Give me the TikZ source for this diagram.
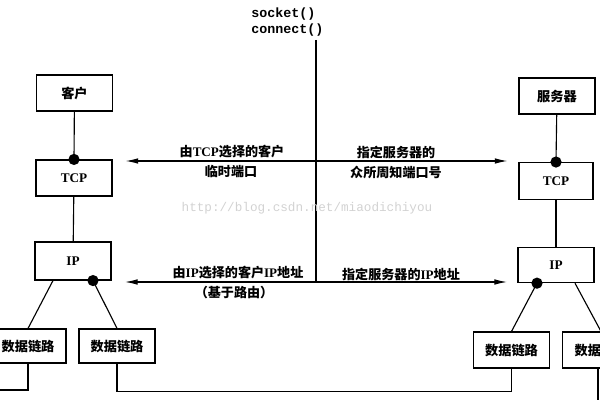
\documentclass[tikz,border=0pt]{standalone}
\usepackage{fontspec}
\setmainfont{Liberation Serif}
\setmonofont{Liberation Mono}
\newfontfamily\cjk{Noto Sans CJK SC}
\usetikzlibrary{arrows.meta,calc}
\definecolor{mark}{HTML}{D2D2D2}
\newcommand{\lat}[1]{{\rmfamily\bfseries #1}}

\begin{document}
\begin{tikzpicture}[x=0.025cm,y=-0.025cm,
  box/.style={draw,line width=0.8pt,minimum width=1.9cm,minimum height=0.9cm,inner sep=0pt,font=\fontsize{9.4}{11}\selectfont\cjk\bfseries},
  lbl/.style={inner sep=0pt,font=\fontsize{9.3}{11}\selectfont\cjk\bfseries},
  code/.style={inner sep=0pt,anchor=west,font=\fontsize{9.5}{11}\selectfont\ttfamily\bfseries},
  wire/.style={line width=0.8pt},
  dir/.style={line width=0.8pt,{Latex[length=9pt,width=4pt]}-{Latex[length=9pt,width=4pt]}},
  dot/.style={circle,fill,inner sep=0pt,minimum size=8pt},
]
  \useasboundingbox (0,0) rectangle (600,400);

  % client side
  \node[box] (cli) at (74.5,93) {客户};
  \node[box] (ctcp) at (74,178) {\lat{TCP}};
  \node[box,minimum height=0.95cm] (cip) at (73,261) {\lat{IP}};
  \node[box,minimum height=0.85cm] (cdl1) at (28,346) {数据链路};
  \node[box,minimum height=0.85cm] (cdl2) at (117,346) {数据链路};
  \node[dot] (cdot1) at (ctcp.north) {};
  \node[dot] (cdot2) at ($(cip.south)+(20,0)$) {};
  \coordinate (cfoot) at ($(cip.south)+(-20,0)$);

  \draw[wire] (cli) -- (cdot1.center);
  \draw[wire] (ctcp) -- (cip);
  \draw[wire] (cfoot) -- (cdl1.north);
  \draw[wire] (cdot2.center) -- (cdl2.north);

  % server side
  \node[box] (srv) at (557,96) {服务器};
  \node[box,minimum width=1.85cm,minimum height=0.92cm] (stcp) at (556,181) {\lat{TCP}};
  \node[box,minimum height=0.88cm] (sip) at (556,265) {\lat{IP}};
  \node[box,minimum width=1.92cm] (sdl1) at (511.5,350) {数据链路};
  \node[box,minimum width=1.92cm] (sdl2) at (601,350) {数据链路};
  \node[dot] (sdot1) at (stcp.north) {};
  \node[dot] (sdot2) at ($(sip.south)+(-19,0)$) {};
  \coordinate (sfoot) at ($(sip.south)+(19,0)$);

  \draw[wire] (srv) -- (sdot1.center);
  \draw[wire] (stcp) -- (sip);
  \draw[wire] (sdot2.center) -- (sdl1.north);
  \draw[wire] (sfoot) -- (sdl2.north);

  % network wires
  \coordinate (edge) at (0,390);
  \coordinate (floor) at (598,400);
  \draw[wire] (cdl1.south) |- (edge);
  \draw[wire] (cdl2.south) -- ++(0,28) -| (sdl1.south);
  \draw[wire] (sdl2.south -| floor) -- (floor);

  % socket calls
  \node[code] (sock) at (251,14) {socket()};
  \node[code] (conn) at (251,30) {connect()};
  \coordinate (top) at (316,40);
  \coordinate (mid) at (316,282);
  \draw[wire] (top) -- (mid);

  \coordinate (al1) at ($(ctcp.east)+(13,-17)$);
  \coordinate (ar1) at ($(stcp.west)+(-11,-20)$);
  \coordinate (al2) at (125,282);
  \coordinate (ar2) at (507,282);
  \draw[dir] (al1) -- (ar1);
  \draw[dir] (al2) -- (ar2);

  \node[lbl] (port1) at (232,152) {由\lat{TCP}选择的客户};
  \node[lbl] (port2) at (231,172) {临时端口};
  \node[lbl] (wk1) at (396,152) {指定服务器的};
  \node[lbl] (wk2) at (396,172) {众所周知端口号};
  \node[lbl] (addr1) at (238,273) {由\lat{IP}选择的客户\lat{IP}地址};
  \node[lbl] (addr2) at (234,293) {（基于路由）};
  \node[lbl] (saddr) at (401,274) {指定服务器的\lat{IP}地址};

  % watermark
  \node[inner sep=0pt,text=mark,font=\fontsize{9}{11}\selectfont\ttfamily] (wm) at (307,208) {http://blog.csdn.net/miaodichiyou};
\end{tikzpicture}
\end{document}
